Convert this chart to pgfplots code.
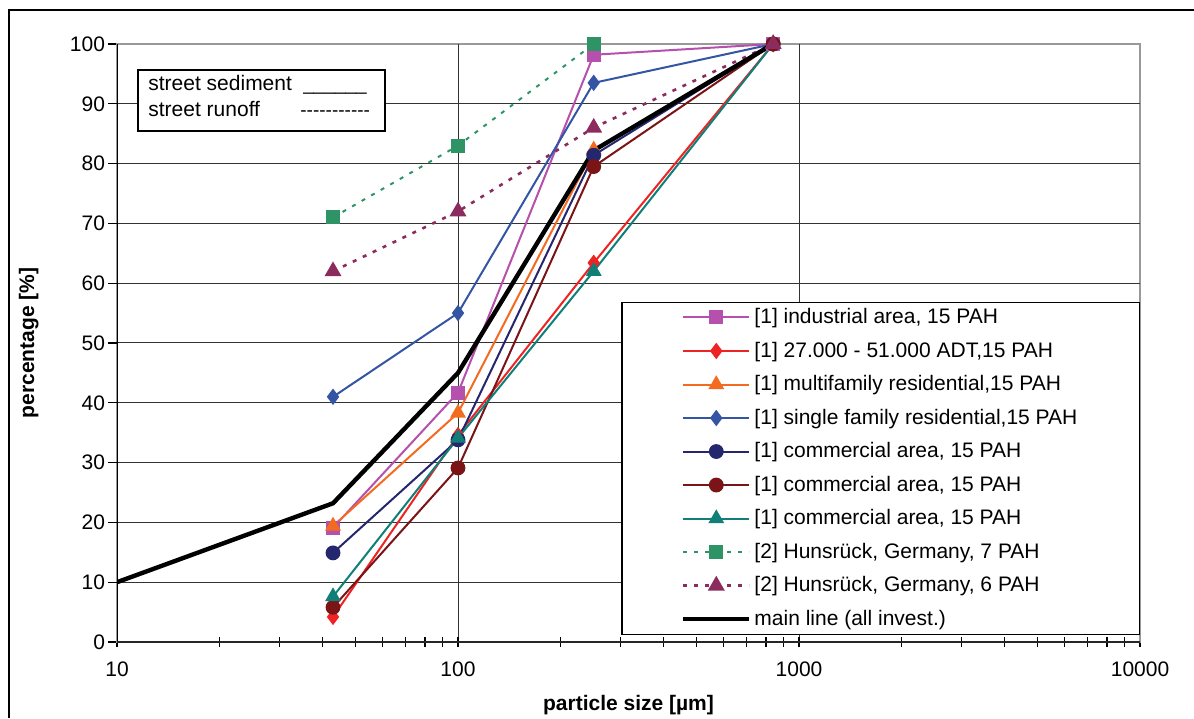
\documentclass[border=0pt]{standalone}
\usepackage{fontspec}
\setmainfont{Liberation Sans}
\usepackage{pgfplots}
\pgfplotsset{compat=1.18}
\definecolor{cInd}{HTML}{B550AC}
\definecolor{cADT}{HTML}{EE2424}
\definecolor{cMulti}{HTML}{F26B21}
\definecolor{cSingle}{HTML}{3454A4}
\definecolor{cComA}{HTML}{25276E}
\definecolor{cComB}{HTML}{7B1417}
\definecolor{cComC}{HTML}{0F7F78}
\definecolor{cHa}{HTML}{2E9466}
\definecolor{cHb}{HTML}{8C2B5E}
\def\dsh{-\kern0pt}
\begin{document}
\begin{tikzpicture}[x=1pt,y=1pt]
\useasboundingbox (0,0) rectangle (597,359);
\draw[line width=0.6pt] (4.5,0) -- (4.5,354) -- (597,354);
\begin{axis}[
  at={(58.5pt,38pt)}, anchor=south west,
  scale only axis, width=511.5pt, height=299pt,
  xmode=log, xmin=10, xmax=10000, ymin=0, ymax=100,
  xtick={10,100,1000,10000}, xticklabels={10,100,1000,10000},
  minor xtick={20,30,40,50,60,70,80,90,200,300,400,500,600,700,800,900,2000,3000,4000,5000,6000,7000,8000,9000},
  ytick={0,10,...,100},
  extra x ticks={100,1000}, extra x tick labels={},
  extra y ticks={10,20,...,90}, extra y tick labels={},
  extra tick style={grid=major},
  /pgf/number format/assume math mode=true,
  xtick pos=bottom, ytick pos=left,
  xtick align=center, ytick align=outside,
  major tick length=4.5pt, minor tick length=4.5pt,
  tick style={black, line width=0.6pt},
  grid style={black!80, line width=0.5pt},
  axis line style={draw=black!40, line width=1pt},
  ticklabel style={font=\fontsize{10.5}{12}\selectfont},
  xticklabel style={anchor=base, yshift=-15pt},
  yticklabel style={xshift=2pt},
  label style={font=\bfseries\fontsize{10.5}{12}\selectfont},
  xlabel={particle size [µm]},
  ylabel={percentage [\%]},
  xlabel style={at={(axis description cs:0.5,-0.115)}, anchor=base},
  ylabel style={at={(axis description cs:-0.081,0.5)}, anchor=base},
  legend cell align=left,
  legend image code/.code={\draw[mark repeat=2,mark phase=2] plot coordinates {(0pt,0pt) (16.5pt,0pt) (33pt,0pt)};},
  legend style={at={(1,0.012)}, anchor=south east, draw=black, line width=0.6pt,
    font=\fontsize{10.5}{12}\selectfont, inner xsep=29.5pt, inner ysep=2pt,
    row sep=5.65pt, nodes={inner xsep=1.5pt, inner ysep=1pt}},
  every axis plot/.append style={line width=1pt},
]
\draw[black, line width=0.8pt] (rel axis cs:0,0) -- (rel axis cs:0,1);
\draw[black!85, line width=1pt] (rel axis cs:0,0) -- (rel axis cs:1,0);
\addplot[cInd, mark=square*, mark size=3pt] coordinates {(43,19.1) (100,41.7) (250,98.2) (840,100)};
\addlegendentry{[1] industrial area, 15 PAH}
\addplot[cADT, mark=diamond*, mark size=3.3pt] coordinates {(43,4.2) (100,34.6) (250,63.4) (840,100)};
\addlegendentry{[1] 27.000 - 51.000 ADT,15 PAH}
\addplot[cMulti, mark=triangle*, mark size=3.6pt] coordinates {(43,19.4) (100,38.3) (250,82.3) (840,100)};
\addlegendentry{[1] multifamily residential,15 PAH}
\addplot[cSingle, mark=diamond*, mark size=3.3pt] coordinates {(43,41) (100,55) (250,93.5) (840,100)};
\addlegendentry{[1] single family residential,15 PAH}
\addplot[cComA, mark=*, mark size=3.2pt] coordinates {(43,14.9) (100,33.8) (250,81.4) (840,100)};
\addlegendentry{[1] commercial area, 15 PAH}
\addplot[cComB, mark=*, mark size=3.2pt] coordinates {(43,5.8) (100,29.1) (250,79.5) (840,100)};
\addlegendentry{[1] commercial area, 15 PAH}
\addplot[cComC, mark=triangle*, mark size=3.6pt] coordinates {(43,7.6) (100,34.1) (250,62) (840,100)};
\addlegendentry{[1] commercial area, 15 PAH}
\addplot[cHa, line width=1pt, dash pattern=on 2pt off 3.5pt, mark=square*, mark size=3pt, mark options={solid}] coordinates {(43,71) (100,83) (250,100)};
\addlegendentry{[2] Hunsrück, Germany, 7 PAH}
\addplot[cHb, line width=1.3pt, dash pattern=on 2pt off 3.5pt, mark=triangle*, mark size=3.6pt, mark options={solid}] coordinates {(43,62) (100,72) (250,86) (840,100)};
\addlegendentry{[2] Hunsrück, Germany, 6 PAH}
\addplot[black, line width=2.2pt, no marks] coordinates {(10,10) (43,23.2) (100,45) (250,82.2) (840,100)};
\addlegendentry{main line (all invest.)}
\end{axis}
\draw[line width=0.8pt, fill=white] (69,293.5) rectangle (192.5,324);
\node[anchor=base west, inner sep=0pt, font=\fontsize{10.5}{12}\selectfont] at (74,313.6) {street sediment};
\node[anchor=base west, inner sep=0pt, font=\fontsize{10.5}{12}\selectfont] at (74,300.5) {street runoff};
\node[anchor=base west, inner sep=0pt, font=\fontsize{9.5}{11}\selectfont] at (151.5,313.6) {\_\_\_\_\_\_};
\node[anchor=base west, inner sep=0pt, font=\fontsize{9.5}{11}\selectfont] at (150,300.5) {\dsh\dsh\dsh\dsh\dsh\dsh\dsh\dsh\dsh\dsh\dsh};
\end{tikzpicture}
\end{document}
